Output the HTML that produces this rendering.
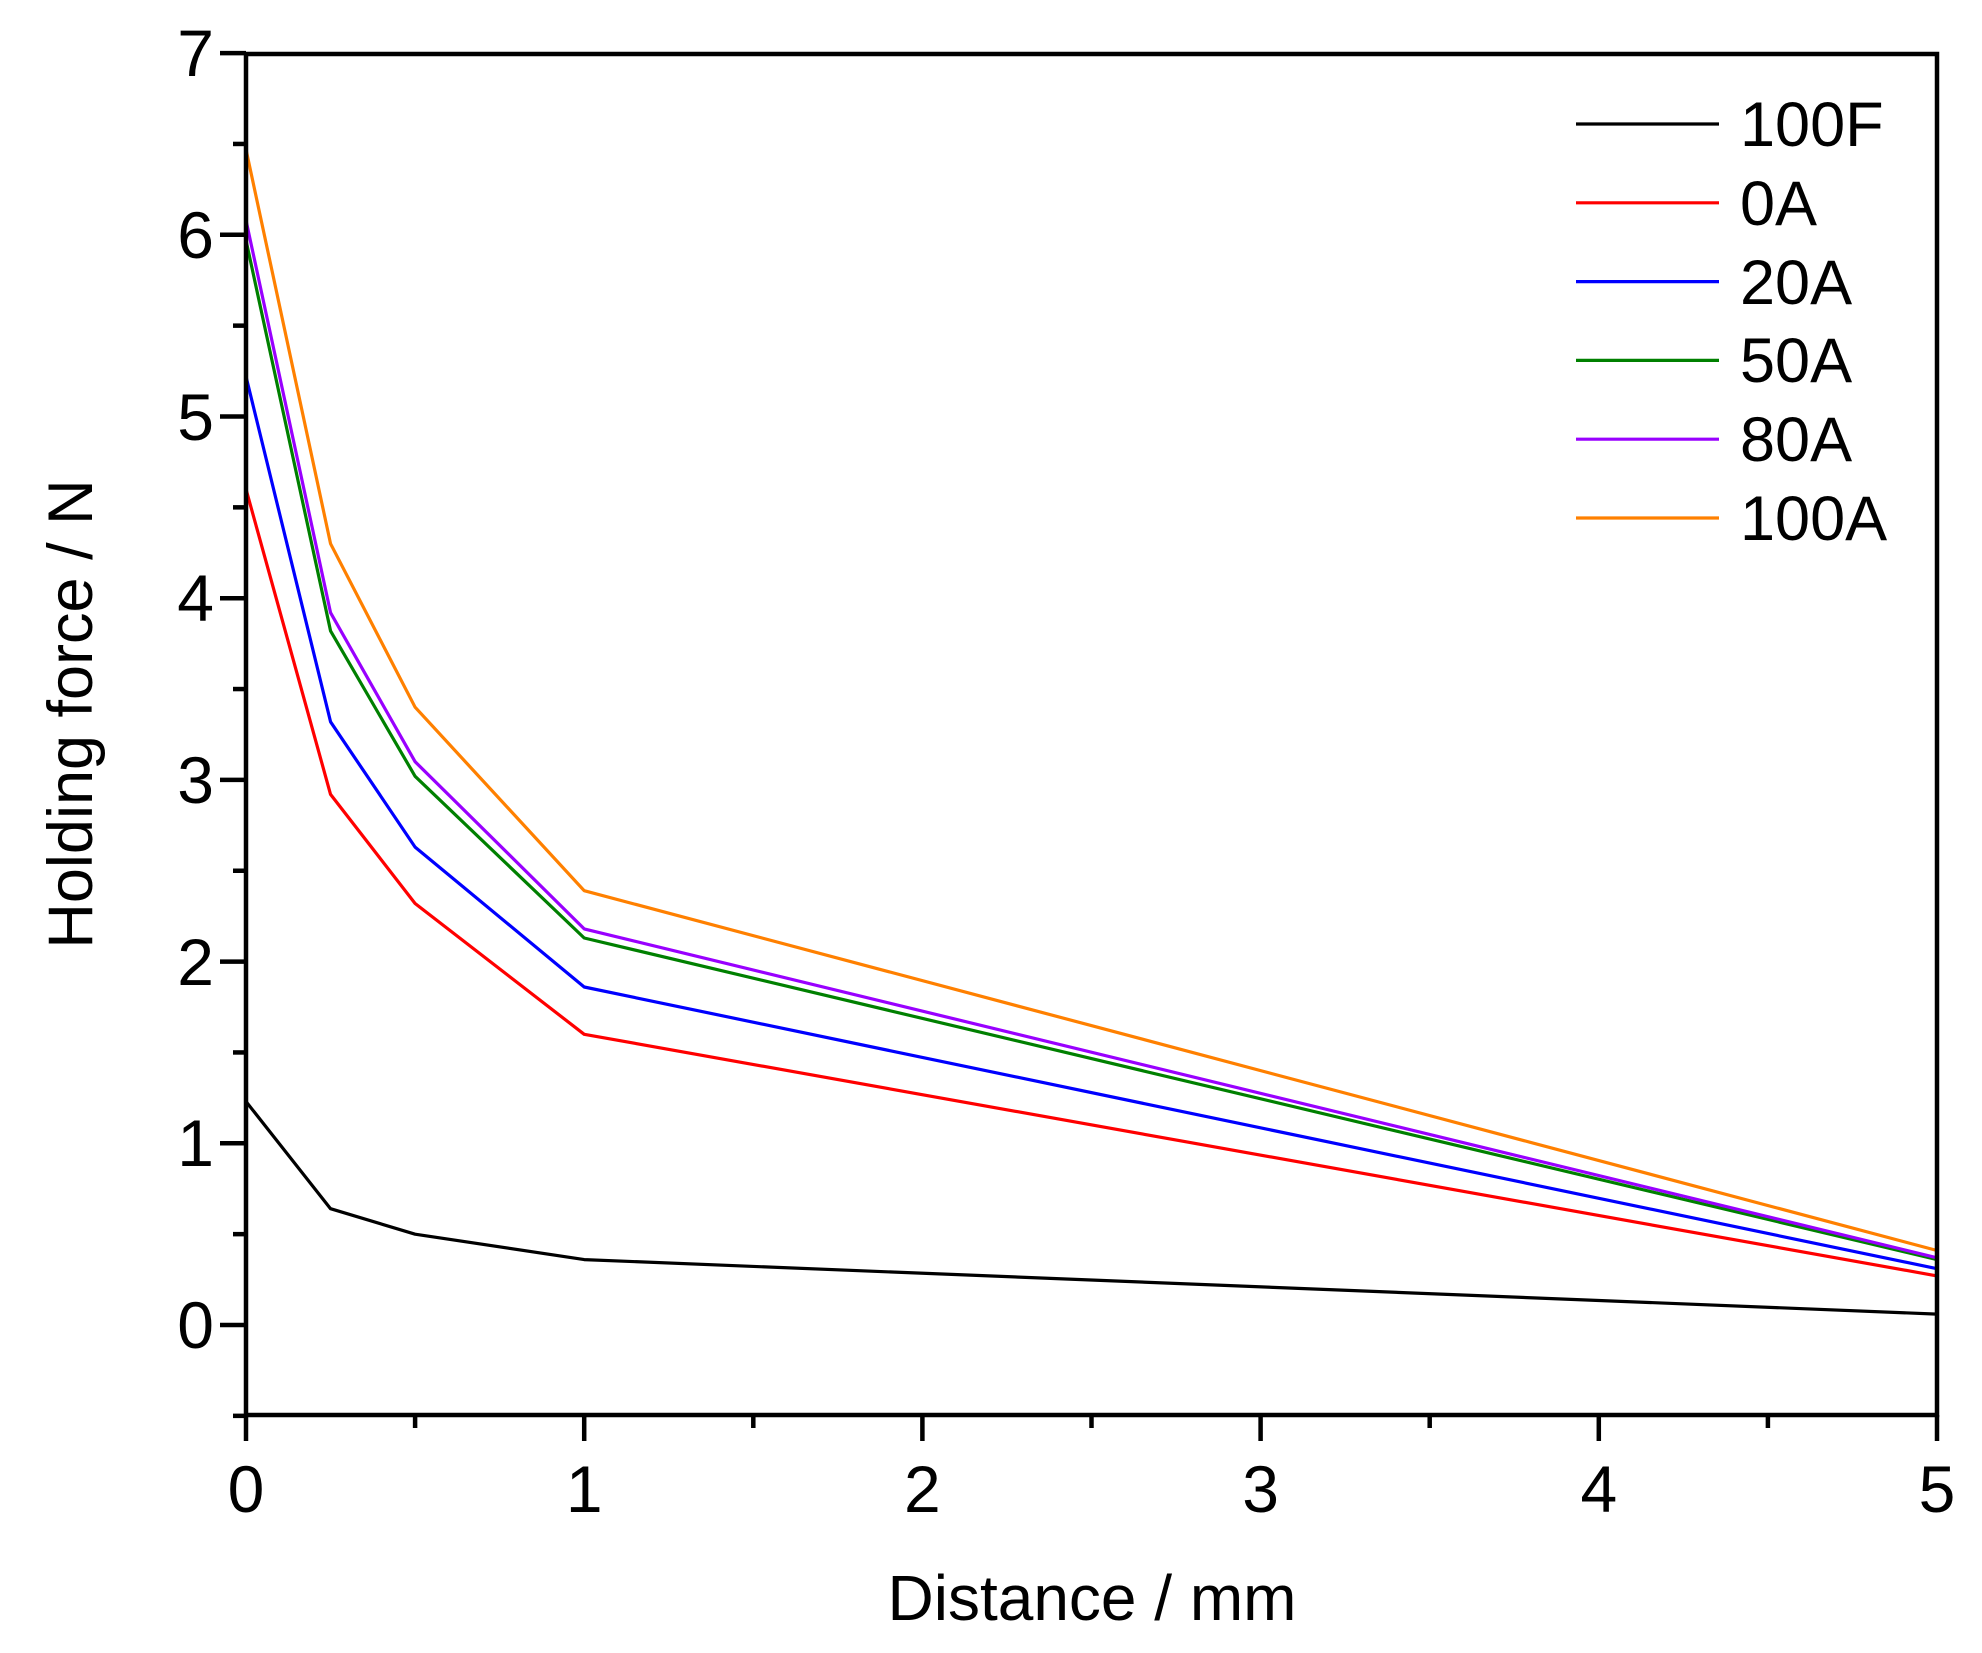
<!DOCTYPE html><html><head><style>body{margin:0;background:#fff}svg{display:block}text{font-family:"Liberation Sans",Arial,sans-serif;fill:#000}</style></head><body>
<svg width="1982" height="1653" viewBox="0 0 1982 1653" xmlns="http://www.w3.org/2000/svg">
<g fill="none" stroke-width="3.2" stroke-linejoin="round">
<polyline stroke="#000000" points="246,1101.5 330.55,1208.7 415.1,1234.2 584.2,1259.6 1937,1314.1"/>
<polyline stroke="#ff0000" points="246,489.2 330.55,794.4 415.1,903.5 584.2,1034.3 1937,1275.9"/>
<polyline stroke="#0000ff" points="246,376.5 330.55,721.8 415.1,847.1 584.2,987 1937,1268.7"/>
<polyline stroke="#008000" points="246,240.3 330.55,630.9 415.1,776.3 584.2,938 1937,1259.6"/>
<polyline stroke="#9900ff" points="246,220.3 330.55,612.7 415.1,761.7 584.2,928.9 1937,1257.8"/>
<polyline stroke="#ff8000" points="246,149.4 330.55,543.7 415.1,707.2 584.2,890.7 1937,1250.5"/>
</g>
<g stroke="#000" stroke-width="4.5" fill="none">
<rect x="246" y="54" width="1691" height="1361"/>
<line x1="246" y1="1415" x2="246" y2="1441"/>
<line x1="415.1" y1="1415" x2="415.1" y2="1428"/>
<line x1="584.2" y1="1415" x2="584.2" y2="1441"/>
<line x1="753.3" y1="1415" x2="753.3" y2="1428"/>
<line x1="922.4" y1="1415" x2="922.4" y2="1441"/>
<line x1="1091.5" y1="1415" x2="1091.5" y2="1428"/>
<line x1="1260.6" y1="1415" x2="1260.6" y2="1441"/>
<line x1="1429.7" y1="1415" x2="1429.7" y2="1428"/>
<line x1="1598.8" y1="1415" x2="1598.8" y2="1441"/>
<line x1="1767.9" y1="1415" x2="1767.9" y2="1428"/>
<line x1="1937" y1="1415" x2="1937" y2="1441"/>
<line x1="246" y1="1415.85" x2="233" y2="1415.85"/>
<line x1="246" y1="1325" x2="220" y2="1325"/>
<line x1="246" y1="1234.15" x2="233" y2="1234.15"/>
<line x1="246" y1="1143.3" x2="220" y2="1143.3"/>
<line x1="246" y1="1052.45" x2="233" y2="1052.45"/>
<line x1="246" y1="961.6" x2="220" y2="961.6"/>
<line x1="246" y1="870.75" x2="233" y2="870.75"/>
<line x1="246" y1="779.9" x2="220" y2="779.9"/>
<line x1="246" y1="689.05" x2="233" y2="689.05"/>
<line x1="246" y1="598.2" x2="220" y2="598.2"/>
<line x1="246" y1="507.35" x2="233" y2="507.35"/>
<line x1="246" y1="416.5" x2="220" y2="416.5"/>
<line x1="246" y1="325.65" x2="233" y2="325.65"/>
<line x1="246" y1="234.8" x2="220" y2="234.8"/>
<line x1="246" y1="143.95" x2="233" y2="143.95"/>
<line x1="246" y1="53.1" x2="220" y2="53.1"/>
</g>
<g font-size="66" text-anchor="middle">
<text x="246" y="1512">0</text><text x="584.2" y="1512">1</text><text x="922.4" y="1512">2</text><text x="1260.6" y="1512">3</text><text x="1598.8" y="1512">4</text><text x="1937" y="1512">5</text>
</g>
<g font-size="66" text-anchor="end">
<text x="214" y="1348">0</text><text x="214" y="1166">1</text><text x="214" y="985">2</text><text x="214" y="803">3</text><text x="214" y="621">4</text><text x="214" y="440">5</text><text x="214" y="258">6</text><text x="214" y="76">7</text>
</g>
<g stroke-width="3.2">
<line x1="1576" y1="124" x2="1719" y2="124" stroke="#000"/>
<line x1="1576" y1="202.8" x2="1719" y2="202.8" stroke="#ff0000"/>
<line x1="1576" y1="281.6" x2="1719" y2="281.6" stroke="#0000ff"/>
<line x1="1576" y1="360.4" x2="1719" y2="360.4" stroke="#008000"/>
<line x1="1576" y1="439.2" x2="1719" y2="439.2" stroke="#9900ff"/>
<line x1="1576" y1="518" x2="1719" y2="518" stroke="#ff8000"/>
</g>
<g font-size="63">
<text x="1740" y="146">100F</text><text x="1740" y="225">0A</text><text x="1740" y="304">20A</text><text x="1740" y="382">50A</text><text x="1740" y="461">80A</text><text x="1740" y="540">100A</text>
</g>
<text x="1092" y="1620" font-size="64" text-anchor="middle">Distance / mm</text>
<text transform="translate(92,714) rotate(-90)" font-size="63" text-anchor="middle">Holding force / N</text>
</svg>
</body></html>
